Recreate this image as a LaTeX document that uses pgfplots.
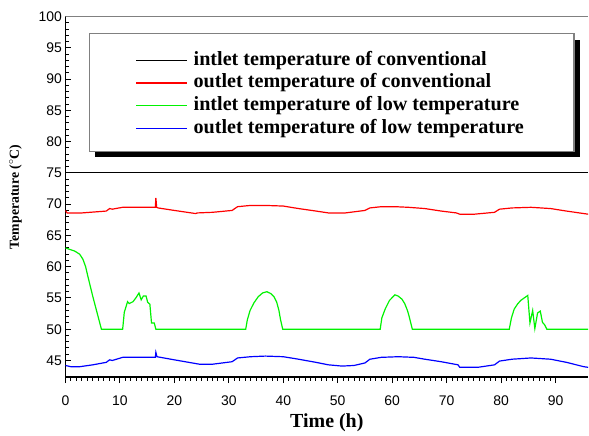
\documentclass[border=0pt]{standalone}
\usepackage{pgfplots}
\pgfplotsset{compat=1.18}
\usepackage{fontspec}
\setmainfont{Liberation Serif}
\setsansfont{Liberation Sans}
\definecolor{cred}{rgb}{1,0,0}
\definecolor{cgreen}{rgb}{0,0.95,0}
\definecolor{cblue}{rgb}{0,0,1}
\newcommand{\legfont}{\fontsize{20.2}{22}\selectfont\bfseries}
\newcommand{\legtxt}[1]{\textbf{#1}}
\begin{document}
\begin{tikzpicture}
\begin{axis}[
  scale only axis,
  width=524.5pt, height=361.6pt,
  xmin=0, xmax=96, ymin=42.35, ymax=100,
  axis lines*=left,
  axis line style={line width=1.6pt, black, -},
  xtick={0,10,...,90}, minor x tick num=9,
  ytick={45,50,...,100}, minor y tick num=4,
  xtick align=outside, ytick align=inside,
  major tick length=6pt, minor tick length=3.5pt,
  every tick/.style={black, line width=1pt},
  /pgf/number format/assume math mode=true,
  tick label style={font=\fontsize{14}{15}\selectfont\sffamily},
  xticklabel style={yshift=-9pt},
  xlabel={Time (h)},
  ylabel={Temperature ($^\circ$C)},
  every axis x label/.style={at={(axis description cs:0.5,0)}, anchor=base, yshift=-51pt, font=\fontsize{20}{22}\selectfont\bfseries},
  every axis y label/.style={at={(axis description cs:-0.0892,0.5)}, rotate=90, anchor=base, font=\fontsize{13.8}{15}\selectfont\bfseries},
  legend image code/.code={\draw[#1, line width=1.4pt] (0pt,0pt) -- (51pt,0pt);},
  legend cell align=left,
  legend style={
    at={(axis description cs:0.0458,0.953)}, anchor=north west,
    draw=none, fill=none,
    inner xsep=46pt, inner ysep=15.5pt,
    column sep=3pt, row sep=0pt,
    font=\legfont,
    nodes={font=\legfont, inner xsep=3pt, inner ysep=2pt, text height=14pt, text depth=4.7pt},
  },
]
\fill[black] (rel axis cs:0.0572,0.6098) rectangle (rel axis cs:0.9843,0.9364);
\filldraw[draw=gray, fill=white, line width=1.3pt] (rel axis cs:0.0458,0.6264) rectangle (rel axis cs:0.9729,0.953);
\addplot[black, line width=1pt] coordinates {(0,75) (96,75)};
\addlegendentry{\legtxt{intlet temperature of conventional}}
\addplot[cred, line width=1.2pt] coordinates {
(0,69.0)(0.3,68.6)(3,68.6)(6,68.8)(7.5,68.9)(8.1,69.3)(8.6,69.2)(9.2,69.3)(10.5,69.5)(13,69.5)(16.5,69.5)(16.6,71.0)(16.75,69.5)(17,69.4)(20,69.0)(23.9,68.5)(24.2,68.6)(27,68.7)(30.6,69.0)(31.6,69.6)(34,69.8)(36.7,69.8)(40,69.7)(42.8,69.3)(46,68.9)(48.3,68.6)(51.4,68.6)(55,69.0)(55.9,69.4)(58,69.6)(60.5,69.6)(63,69.5)(66,69.3)(69,68.9)(71.8,68.6)(72.4,68.4)(75.1,68.4)(78.8,68.7)(79.7,69.2)(82,69.4)(85.5,69.5)(89.1,69.3)(92,68.9)(95.2,68.5)(96,68.4)};
\addlegendentry{\legtxt{outlet temperature of conventional}}
\addplot[cgreen, line width=1.2pt] coordinates {
(0,63.0)(1.7,62.5)(2.6,62.0)(3.2,61.2)(3.7,60.0)(4.1,58.5)(5.0,55.3)(6.6,50)(10.5,50)(10.8,52.7)(11.4,54.4)(11.7,54.1)(12.4,54.4)(13.0,55.1)(13.5,55.8)(13.9,54.7)(14.3,55.3)(14.8,55.3)(15.1,54.3)(15.5,54.0)(15.8,51.0)(16.3,51.0)(16.6,50)
(33.1,50)(33.4,51.5)(33.9,53.0)(34.6,54.2)(35.4,55.2)(36.2,55.8)(37.0,56.0)(37.7,55.7)(38.3,55.2)(38.8,54.3)(39.2,53.0)(39.5,51.5)(39.9,50)
(57.8,50)(58.1,51.8)(58.7,53.2)(59.5,54.6)(60.5,55.5)(61.1,55.3)(61.8,54.8)(62.3,54.1)(62.8,53.0)(63.1,52.1)(63.7,50)
(81.5,50)(81.9,51.8)(82.4,53.2)(83.0,54.0)(83.6,54.6)(84.9,55.4)(85.3,51.0)(85.8,53.0)(86.2,50.1)(86.7,52.6)(87.2,52.9)(87.6,51.1)(88.0,50.7)(88.4,50)(96,50)};
\addlegendentry{\legtxt{intlet temperature of low temperature}}
\addplot[cblue, line width=1.2pt] coordinates {
(0,44.2)(1,44.0)(2.6,44.0)(5,44.3)(7.5,44.7)(8.1,45.1)(8.6,45.0)(9,45.1)(10.5,45.5)(13,45.5)(16.5,45.5)(16.6,46.3)(16.8,45.6)(20,45.1)(24.6,44.4)(27,44.4)(30.6,44.8)(31.6,45.4)(34,45.6)(36.7,45.7)(40,45.6)(42.8,45.2)(46,44.7)(48.3,44.3)(50.8,44.1)(53,44.2)(55,44.6)(55.9,45.2)(58,45.5)(61.1,45.6)(64,45.5)(66,45.2)(69,44.8)(72.1,44.3)(72.4,43.9)(75.7,43.9)(78.8,44.3)(79.7,44.9)(82,45.2)(85.5,45.4)(89.1,45.2)(92,44.7)(95.2,44.0)(96,43.9)};
\addlegendentry{\legtxt{outlet temperature of low temperature}}
\draw[gray, line width=1.3pt] (rel axis cs:0,1) -- (rel axis cs:1,1);
\end{axis}
\path[use as bounding box] (-65.7pt,-55.7pt) rectangle (523.3pt,378.3pt);
\end{tikzpicture}
\end{document}
